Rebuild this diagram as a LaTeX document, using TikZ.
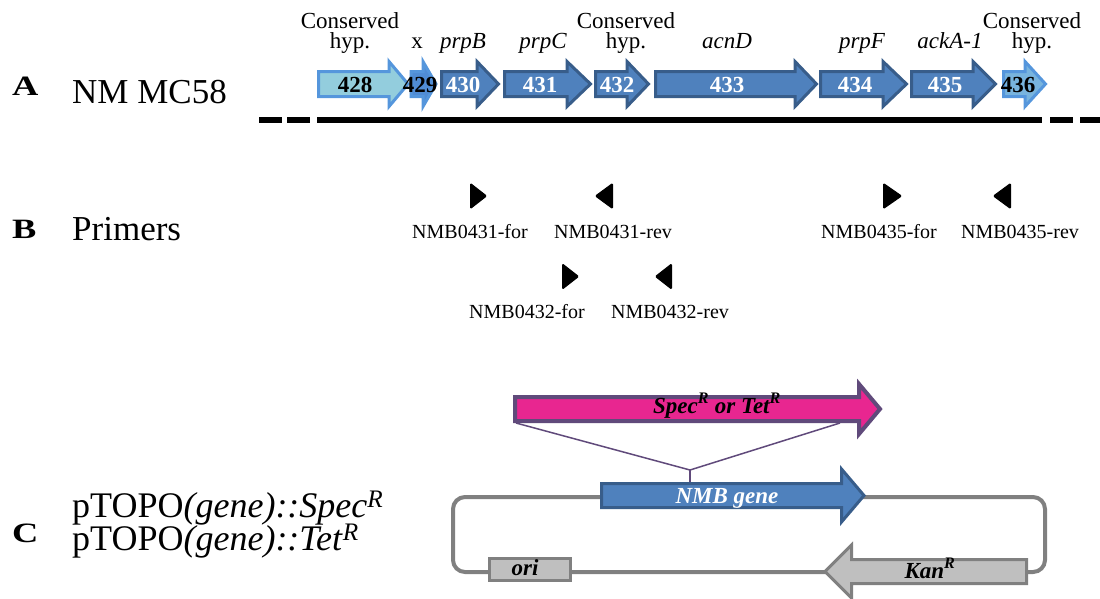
\documentclass[tikz,border=0pt]{standalone}
\usepackage{fontspec}
\setmainfont{Liberation Serif}
\definecolor{geneblue}{RGB}{79,129,189}
\definecolor{geneedge}{RGB}{56,93,138}
\definecolor{hypfill}{RGB}{147,205,221}
\definecolor{hypedge}{RGB}{85,150,220}
\definecolor{midblue}{RGB}{80,140,212}
\definecolor{mixfill}{RGB}{120,180,222}
\definecolor{resfill}{RGB}{232,38,144}
\definecolor{resedge}{RGB}{96,74,123}
\definecolor{loopgray}{RGB}{128,128,128}
\definecolor{boxgray}{RGB}{191,191,191}
% block arrow: style, tail x, head-base x, tip x, centre y, shaft half width, head half width
\newcommand\blockarrow[7]{\draw[#1] (#2,#5-#6) -- (#3,#5-#6) -- (#3,#5-#7) -- (#4,#5) -- (#3,#5+#7) -- (#3,#5+#6) -- (#2,#5+#6) -- cycle;}
\newcommand\fsz[1]{\fontsize{#1}{#1}\selectfont}
\tikzset{
  gene/.style={fill=geneblue, draw=geneedge, line width=3pt},
  hypgene/.style={fill=hypfill, draw=hypedge, line width=3pt},
  lab/.style={font=\fsz{23}, inner sep=0pt, anchor=base},
  twolab/.style={font=\fontsize{23}{20}\selectfont, inner sep=0pt, anchor=north, align=center},
  numw/.style={font=\fsz{23}\bfseries, text=white, inner sep=0pt, anchor=base},
  numb/.style={font=\fsz{23}\bfseries, text=black, inner sep=0pt, anchor=base},
  rowtext/.style={font=\fsz{35}, inner sep=0pt, anchor=base west},
  rowletter/.style={font=\fsz{28}\bfseries, inner sep=0pt, anchor=base west},
  primer/.style={font=\fsz{20}, inner sep=0pt, anchor=base},
  tri/.style={fill=black, draw=black, line width=1pt, rounded corners=1pt, line join=round},
  biglab/.style={font=\fsz{23}\bfseries\itshape, inner sep=0pt, anchor=base},
  chrom/.style={line width=6pt},
  link/.style={draw=resedge, line width=1.5pt},
}
\begin{document}
\begin{tikzpicture}[x=1pt, y=-1pt]
\useasboundingbox (0,0) rectangle (1100,598);

% ---------- A: chromosome region ----------
\node[rowletter] (la) at (12,95) {\scalebox{1.3}[1]{A}};
\node[rowtext] (strain) at (72,103) {NM MC58};

\blockarrow{hypgene}{318.5}{389}{408}{84}{12.5}{22.5}
\blockarrow{fill=midblue, draw=hypedge, line width=3pt}{411}{423}{436}{84}{12.5}{22.5}
\blockarrow{gene}{441.5}{477}{498.5}{84}{12.5}{22.5}
\blockarrow{gene}{504.5}{567}{590.5}{84}{12.5}{22.5}
\blockarrow{gene}{595.5}{627}{648.5}{84}{12.5}{22.5}
\blockarrow{gene}{655.5}{795}{816.5}{84}{12.5}{22.5}
\blockarrow{gene}{820.5}{883}{906.5}{84}{12.5}{22.5}
\blockarrow{gene}{911.5}{973}{995.5}{84}{12.5}{22.5}
\blockarrow{fill=mixfill, draw=hypedge, line width=3pt}{1003.5}{1025}{1045.5}{84}{12.5}{22.5}

\node[numb] (n428) at (355,92) {428};
\node[numb] (n429) at (420,92) {429};
\node[numw] (n430) at (463,92) {430};
\node[numw] (n431) at (540,92) {431};
\node[numw] (n432) at (617,92) {432};
\node[numw] (n433) at (727,92) {433};
\node[numw] (n434) at (855,92) {434};
\node[numw] (n435) at (945,92) {435};
\node[numb] (n436) at (1018,92) {436};

\node[twolab] (h1) at (350,12.3) {Conserved\\hyp.};
\node[lab] (gx) at (417,48) {x};
\node[lab] (gb) at (463,48) {\itshape prpB};
\node[lab] (gc) at (543,48) {\itshape prpC};
\node[twolab] (h2) at (626,12.3) {Conserved\\hyp.};
\node[lab] (gd) at (727,48) {\itshape acnD};
\node[lab] (gf) at (862,48) {\itshape prpF};
\node[lab] (gk) at (950,48) {\itshape ackA-1};
\node[twolab] (h3) at (1032,12.3) {Conserved\\hyp.};

\draw[chrom] (317,120) -- (1042,120);
\draw[chrom] (259,120) -- (282,120);
\draw[chrom] (287,120) -- (310,120);
\draw[chrom] (1050,120) -- (1073,120);
\draw[chrom] (1080,120) -- (1100,120);

% ---------- B: primers ----------
\node[rowletter] (lb) at (12,238) {\scalebox{1.3}[1]{B}};
\node[rowtext] (prim) at (72,240) {Primers};

\draw[tri] (470.5,183.5) -- (486.5,196) -- (470.5,208.5) -- cycle;
\draw[tri] (612.5,183.5) -- (595.5,196) -- (612.5,208.5) -- cycle;
\draw[tri] (562.5,264) -- (578.5,276.5) -- (562.5,289) -- cycle;
\draw[tri] (671.5,264) -- (655.5,276.5) -- (671.5,289) -- cycle;
\draw[tri] (883.5,183.5) -- (901.5,196) -- (883.5,208.5) -- cycle;
\draw[tri] (1010.5,183.5) -- (993.5,196) -- (1010.5,208.5) -- cycle;

\node[primer] (p1f) at (470,238) {NMB0431-for};
\node[primer] (p1r) at (613,238) {NMB0431-rev};
\node[primer] (p2f) at (527,318) {NMB0432-for};
\node[primer] (p2r) at (670,318) {NMB0432-rev};
\node[primer] (p5f) at (879,238) {NMB0435-for};
\node[primer] (p5r) at (1020,238) {NMB0435-rev};

% ---------- C: plasmid construct ----------
\node[rowletter] (lc) at (12,542) {\scalebox{1.3}[1]{C}};
\node[rowtext, font=\fsz{36}] (pl1) at (72,517) {pTOPO\textit{(gene)::Spec}\textsuperscript{\textit{R}}};
\node[rowtext, font=\fsz{36}] (pl2) at (72,550) {pTOPO\textit{(gene)::Tet}\textsuperscript{\textit{R}}};

% plasmid backbone
\draw[draw=loopgray, line width=4pt, rounded corners=12pt] (453,497) rectangle (1045,572);

% resistance cassette and insertion lines
\coordinate (specl) at (516,423);
\coordinate (specr) at (840,423);
\coordinate (ins) at (690,470);
\coordinate (genetop) at (690,482);
\draw[link] (specl) -- (ins) -- (specr);
\draw[link] (ins) -- (genetop);
\blockarrow{fill=resfill, draw=resedge, line width=4pt}{515}{859}{880}{409}{12}{25}
\node[biglab] (spec) at (717,413) {Spec\textsuperscript{R} or Tet\textsuperscript{R}};

% target gene
\blockarrow{gene}{601.5}{841.5}{864}{495.5}{12}{26.5}
\node[biglab, text=white] (nmb) at (727,503) {NMB gene};

% origin and kanamycin marker
\draw[fill=boxgray, draw=loopgray, line width=3pt] (489.5,558.5) rectangle (570.5,580.5);
\node[biglab] (ori) at (525,575) {ori};
\blockarrow{fill=boxgray, draw=loopgray, line width=3pt}{1026.5}{851.5}{825}{571.5}{12}{26.5}
\node[biglab] (kan) at (930,578) {Kan\textsuperscript{R}};
\end{tikzpicture}
\end{document}
